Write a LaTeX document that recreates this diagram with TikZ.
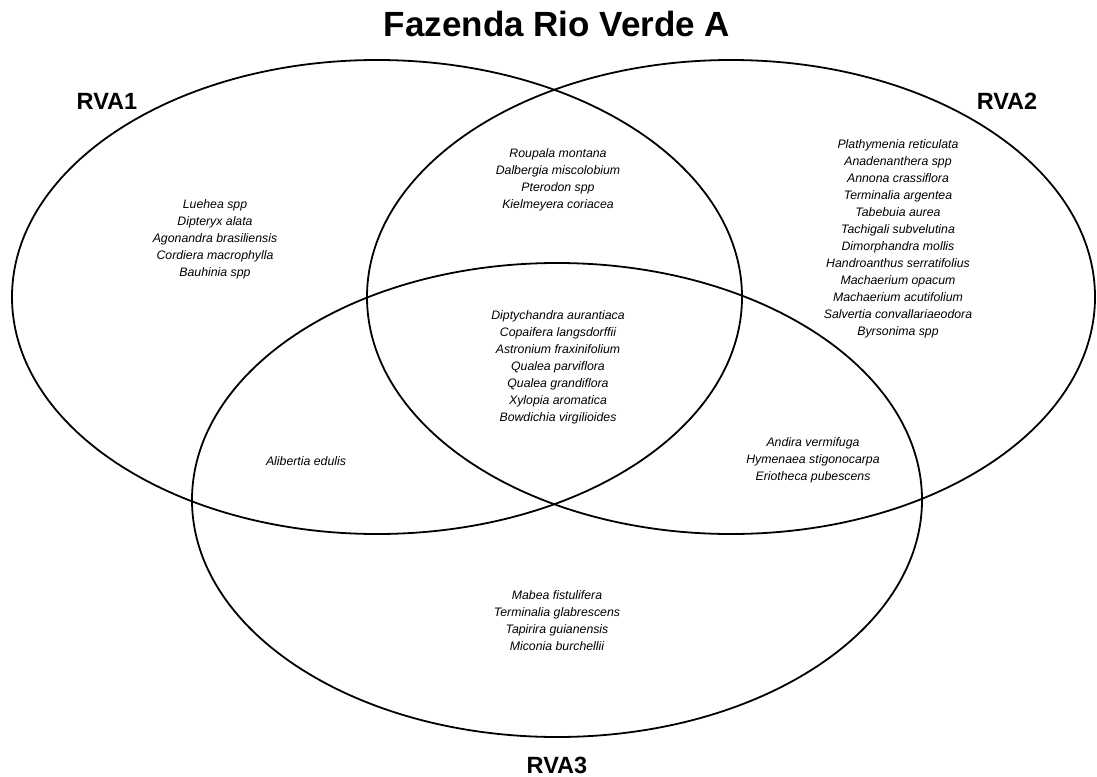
\documentclass[tikz,border=0pt]{standalone}
\usepackage{fontspec}
\setmainfont{Liberation Sans}
\tikzset{
  setline/.style = {line width=1.8pt},
  setname/.style = {font=\fontsize{23.5}{27}\selectfont\bfseries},
  species/.style = {align=center, inner sep=0pt, font=\fontsize{12.3}{17}\selectfont\itshape}
}

\begin{document}
\begin{tikzpicture}[x=1pt, y=-1pt]
  \useasboundingbox (0,0) rectangle (1097,776);
  % the three sets
  \draw[setline] (377,297) ellipse [x radius=365, y radius=237];
  \draw[setline] (731,297) ellipse [x radius=364, y radius=237];
  \draw[setline] (557,500) ellipse [x radius=365, y radius=237];
  % titles
  \node[font=\fontsize{35}{40}\selectfont\bfseries] (title) at (557,24) {Fazenda Rio Verde A};
  \node[setname] (rva1) at (107,101) {RVA1};
  \node[setname] (rva2) at (1007,101) {RVA2};
  \node[setname] (rva3) at (557,765) {RVA3};
  % species in each region
  \node[species] (only1) at (215,239) {Luehea spp\\Dipteryx alata\\Agonandra brasiliensis\\Cordiera macrophylla\\Bauhinia spp};
  \node[species] (top12) at (558,180) {Roupala montana\\Dalbergia miscolobium\\Pterodon spp\\Kielmeyera coriacea};
  \node[species] (only2) at (898,239) {Plathymenia reticulata\\Anadenanthera spp\\Annona crassiflora\\Terminalia argentea\\Tabebuia aurea\\Tachigali subvelutina\\Dimorphandra mollis\\Handroanthus serratifolius\\Machaerium opacum\\Machaerium acutifolium\\Salvertia convallariaeodora\\Byrsonima spp};
  \node[species] (all123) at (558,367) {Diptychandra aurantiaca\\Copaifera langsdorffii\\Astronium fraxinifolium\\Qualea parviflora\\Qualea grandiflora\\Xylopia aromatica\\Bowdichia virgilioides};
  \node[species] (mid23) at (813,460) {Andira vermifuga\\Hymenaea stigonocarpa\\Eriotheca pubescens};
  \node[species] (mid13) at (306,461) {Alibertia edulis};
  \node[species] (only3) at (557,621) {Mabea fistulifera\\Terminalia glabrescens\\Tapirira guianensis\\Miconia burchellii};
\end{tikzpicture}
\end{document}
